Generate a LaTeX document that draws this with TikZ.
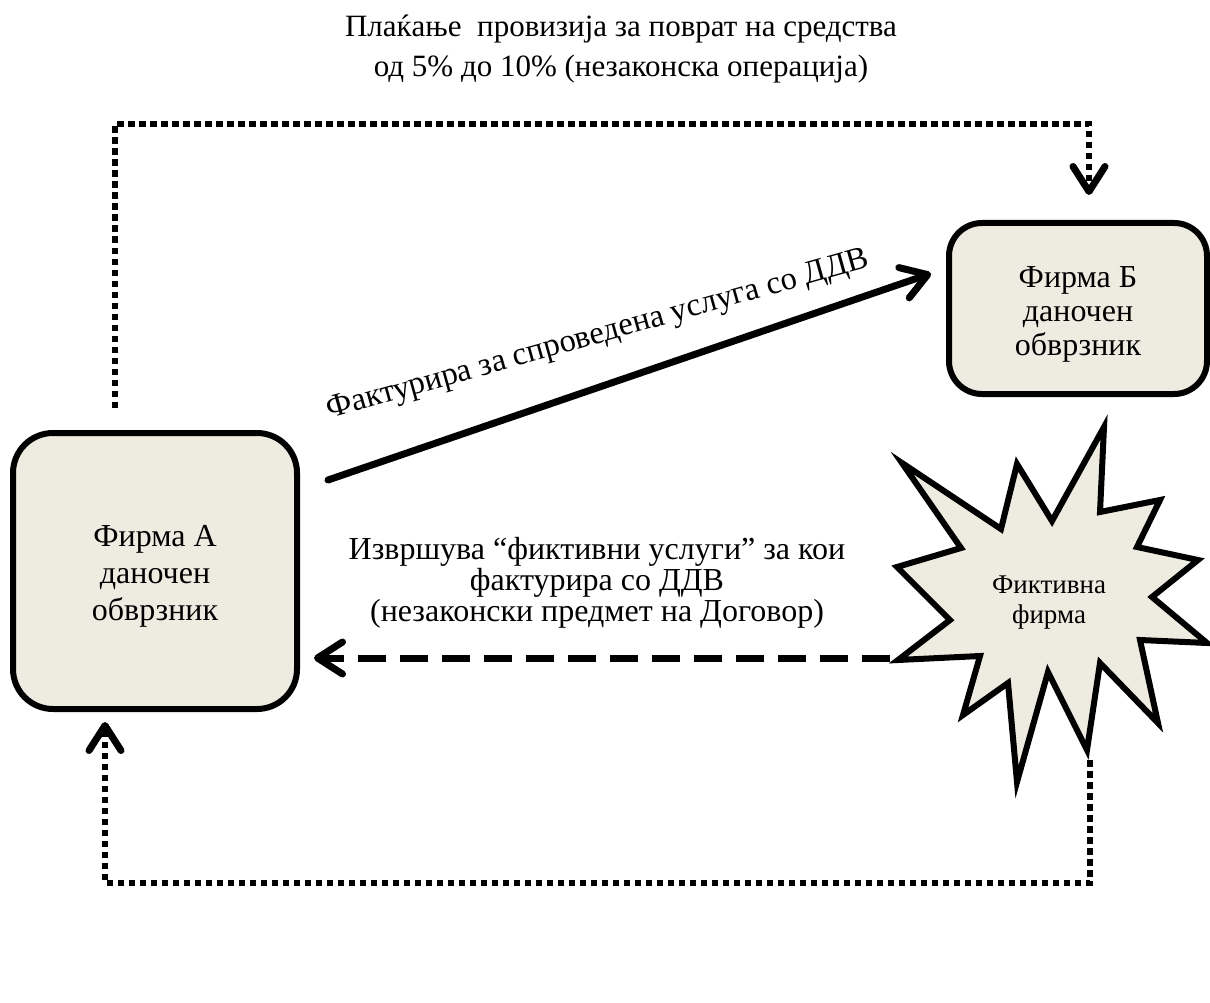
\documentclass[tikz,border=0pt]{standalone}
\usepackage{fontspec}
\setmainfont{Liberation Serif}
\usetikzlibrary{arrows.meta,calc}
\definecolor{boxfill}{RGB}{238,236,225}
\begin{document}
\begin{tikzpicture}[x=1pt,y=-1pt,
  vee/.tip={Straight Barb[length=25pt,width=32pt,line width=7pt,round]},
  firm/.style={draw,line width=6pt,fill=boxfill,inner sep=0pt},
  label/.style={align=center,inner sep=0pt},
  dotline/.style={line width=6.5pt,dash pattern=on 6.5pt off 4.5pt},
  dashline/.style={line width=7pt,dash pattern=on 28pt off 14pt},
  solidline/.style={line width=7pt,line cap=round},
  burst/.style={draw,line width=6pt,fill=boxfill,line join=miter,miter limit=6}]
\useasboundingbox (0,0) rectangle (1210,1003);

% the two taxpayers
\node[firm,rounded corners=40pt,minimum width=284pt,minimum height=276pt]
  (A) at (155,571) {};
\node[label,font=\fontsize{32}{37}\selectfont] (Atxt) at ($(A.center)+(0,5)$)
  {Фирма А\\даночен\\обврзник};
\node[firm,rounded corners=33pt,minimum width=258pt,minimum height=171pt]
  (B) at (1078,308.5) {};
\node[label,font=\fontsize{32}{34}\selectfont] (Btxt) at ($(B.center)+(0,6)$)
  {Фирма Б\\даночен\\обврзник};

% the fictitious company
\draw[burst] (902,463) -- (1001,529) -- (1017,464) -- (1052,521) -- (1104,427)
  -- (1100,512) -- (1160,500) -- (1137,547) -- (1198,560) -- (1152,597)
  -- (1207,643) -- (1140,640) -- (1158,723) -- (1100,663) -- (1087,750)
  -- (1048,672) -- (1017,782) -- (1008,683) -- (963,715) -- (980,656)
  -- (898,660) -- (950,620) -- (897,567) -- (961,548) -- cycle;
\node[label,font=\fontsize{27}{30}\selectfont] (F) at (1049,603) {Фиктивна\\фирма};
\coordinate (Fw) at (890,658);
\coordinate (Fs) at (1090,760);

% commission paid back: dotted loop over the top
\node[label,font=\fontsize{31}{40}\selectfont] (top) at (621,49)
  {Плаќање\ \ провизија за поврат на средства\\од 5\% до 10\% (незаконска операција)};
\coordinate (Atop) at ($(A.north)+(-40,-22)$);
\coordinate (Rcorner) at (1089,124);
\draw[dotline,-vee] (Atop) |- (Rcorner) -- ($(B.north -| Rcorner)+(0,-25)$);

% invoice for the service
\coordinate (s1) at ($(A.north east)+(28,50)$);
\coordinate (t1) at ($(B.west)+(-15,-35)$);
\draw[solidline,-vee] (s1) -- (t1);
\node[label,font=\fontsize{32.5}{35}\selectfont,rotate=15.7] (inv) at (598,336)
  {Фактурира за спроведена услуга со ДДВ};

% fictitious services
\node[label,font=\fontsize{32}{31}\selectfont] (mid) at (597,583)
  {Извршува “фиктивни услуги” за кои\\фактурира со ДДВ\\(незаконски предмет на Договор)};
\draw[dashline,-vee] (Fw) -- ($(A.east |- Fw)+(14,0)$);

% money returned: dotted loop along the bottom
\coordinate (Lcorner) at (105,883);
\draw[dotline,-vee] (Fs) |- (Lcorner) -- ($(A.south -| Lcorner)+(0,10)$);
\end{tikzpicture}
\end{document}
